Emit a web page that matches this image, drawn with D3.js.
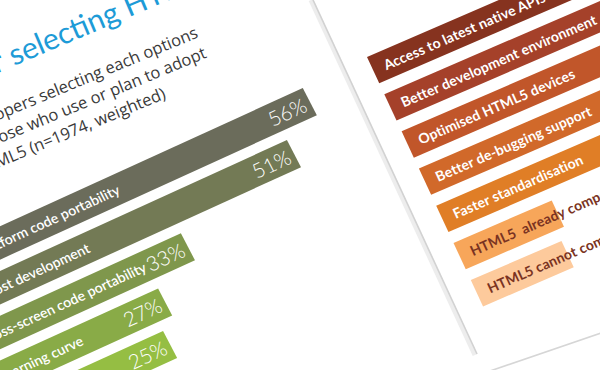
<!DOCTYPE html>
<html>
<head>
<meta charset="utf-8">
<script src="https://cdn.jsdelivr.net/npm/d3@7"></script>
<style>
  html, body { margin: 0; padding: 0; background: #ffffff; }
  svg { display: block; }
</style>
</head>
<body>
<svg id="chart" width="600" height="370"></svg>
<script>
// ---------------- data ----------------
const titleText = ["Reasons for", "selecting HTML5"];
const subtitleLines = [
  "Percentage of developers selecting each options",
  "(among those who use or plan to adopt",
  "HTML5 (n=1974, weighted)"
];
const reasonCategories = [
  "Cross-platform code portability",
  "Low cost development",
  "Cross-screen code portability",
  "Learning curve",
  "Faster delivery"
];
const reasonValues = [56, 51, 33, 27, 25];
const reasonColors = ["#6b6c5b", "#737a55", "#7f974c", "#89ab47", "#95be43"];

const improveCategories = [
  "Access to latest native APIs",
  "Better development environment",
  "Optimised HTML5 devices",
  "Better de-bugging support",
  "Faster standardisation",
  "HTML5  already compelling enough",
  "HTML5 cannot compete with native"
];
const improveValues = [46, 41, 37, 33, 29, 13, 12];
const improveColors = ["#86331f", "#a5412a", "#c1562a", "#d1692a", "#e07e26", "#f7a65a", "#fdca9c"];
const improveTextColors = ["#fff", "#fff", "#fff", "#fff", "#fff", "#7a3322", "#7a3322"];

// ---------------- drawing ----------------
const svg = d3.select("#chart");
const FONT = "Lato, 'Open Sans', sans-serif";

// right page edge + shadow
svg.append("line").attr("x1", 311).attr("y1", 0).attr("x2", 475).attr("y2", 355)
  .attr("stroke", "#ededed").attr("stroke-width", 5);
svg.append("line").attr("x1", 313).attr("y1", 0).attr("x2", 477).attr("y2", 354)
  .attr("stroke", "#d2d2d2").attr("stroke-width", 1.6);
svg.append("line").attr("x1", 490).attr("y1", 371).attr("x2", 601).attr("y2", 333)
  .attr("stroke", "#d6d6d6").attr("stroke-width", 1.6);

// title
const title = svg.append("g").attr("transform", "translate(14,66) rotate(-23)");
title.append("text").attr("x", -8).attr("y", 0).attr("text-anchor", "end")
  .attr("font-family", FONT).attr("font-size", 30)
  .attr("fill", "#1d9bd7").text(titleText[0]);
title.append("text").attr("x", 0).attr("y", 0)
  .attr("font-family", FONT).attr("font-size", 30)
  .attr("fill", "#1d9bd7").text(titleText[1]);

// subtitle
const subOffsets = [0, 0, -53];
const sub = svg.append("g").attr("transform", "translate(199,37) rotate(-22.5)");
sub.selectAll("text").data(subtitleLines).join("text")
  .attr("x", (d, i) => subOffsets[i])
  .attr("y", (d, i) => i * 22)
  .attr("text-anchor", "end")
  .attr("font-family", "'Open Sans', Lato, sans-serif").attr("font-size", 16.5)
  .attr("fill", "#3a3a3a").text(d => d);

// left bar chart (page seen in perspective)
const leftG = svg.append("g")
  .attr("transform", "matrix(0.910,-0.415,0.462,0.887,-85.8,265.3)");
const lStep = 40.8, lBw = 30.5;
const lx = d3.scaleLinear().domain([0, 56]).range([0, 427]);
const ly = d3.scaleBand().domain(reasonCategories)
  .range([0, lStep * reasonCategories.length - (lStep - lBw)])
  .paddingInner((lStep - lBw) / lStep);

const lRows = leftG.selectAll("g.row").data(reasonCategories).join("g").attr("class", "row");
lRows.append("rect")
  .attr("x", lx(0)).attr("y", d => ly(d))
  .attr("width", (d, i) => lx(reasonValues[i]) - lx(0))
  .attr("height", ly.bandwidth())
  .attr("fill", (d, i) => reasonColors[i]);
lRows.append("text")
  .attr("x", 24).attr("y", d => ly(d) + 20.5)
  .attr("font-family", FONT).attr("font-size", 14)
  .attr("font-weight", 600).attr("fill", "#fff").text(d => d);
lRows.append("text")
  .attr("x", (d, i) => lx(reasonValues[i]) - 5).attr("y", d => ly(d) + 23)
  .attr("text-anchor", "end")
  .attr("font-family", FONT).attr("font-size", 20.5)
  .attr("font-weight", 300).attr("fill", "#fff")
  .text((d, i) => reasonValues[i] + "%");

// right bar chart
const rightG = svg.append("g")
  .attr("transform", "matrix(0.918,-0.397,0.422,0.907,367,57)");
const rStep = 41, rBw = 29;
const rx = d3.scaleLinear().domain([0, 13]).range([0, 107]);
const ry = d3.scaleBand().domain(improveCategories)
  .range([0, rStep * improveCategories.length - (rStep - rBw)])
  .paddingInner((rStep - rBw) / rStep);

const rRows = rightG.selectAll("g.row").data(improveCategories).join("g").attr("class", "row");
rRows.append("rect")
  .attr("x", rx(0)).attr("y", d => ry(d))
  .attr("width", (d, i) => rx(improveValues[i]) - rx(0))
  .attr("height", ry.bandwidth())
  .attr("fill", (d, i) => improveColors[i]);
rRows.append("text")
  .attr("x", 12).attr("y", d => ry(d) + 20)
  .attr("font-family", FONT).attr("font-size", 14)
  .attr("letter-spacing", 0.15)
  .attr("font-weight", 700).attr("fill", (d, i) => improveTextColors[i])
  .style("white-space", "pre")
  .text(d => d);
</script>
</body>
</html>
